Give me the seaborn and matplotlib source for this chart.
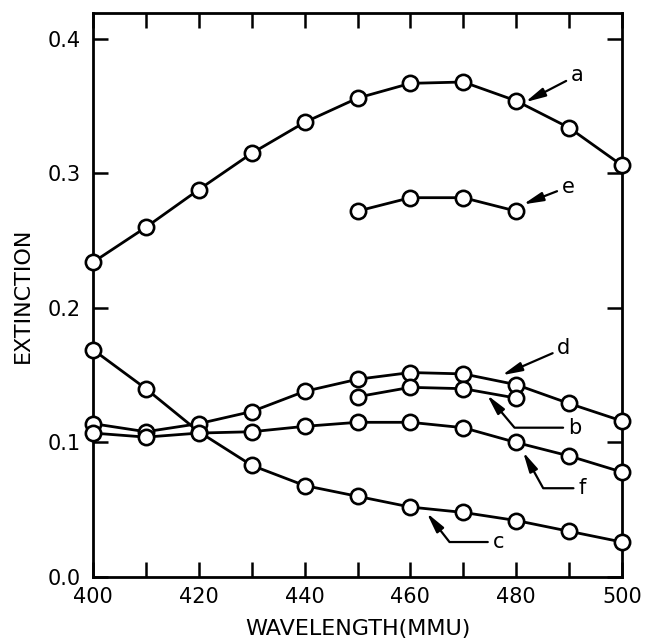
import matplotlib
matplotlib.use("Agg")
import matplotlib.pyplot as plt
import seaborn as sns
import pandas as pd

# ---- data ----
wavelength = [400, 410, 420, 430, 440, 450, 460, 470, 480, 490, 500]
curve_a = [0.234, 0.260, 0.288, 0.315, 0.338, 0.356, 0.367, 0.368, 0.354, 0.334, 0.306]
curve_c = [0.169, 0.140, 0.108, 0.083, 0.068, 0.060, 0.052, 0.048, 0.042, 0.034, 0.026]
curve_d = [0.114, 0.108, 0.114, 0.123, 0.138, 0.147, 0.152, 0.151, 0.143, 0.129, 0.116]
curve_f = [0.107, 0.104, 0.107, 0.108, 0.112, 0.115, 0.115, 0.111, 0.100, 0.090, 0.078]
wavelength_short = [450, 460, 470, 480]
curve_b = [0.134, 0.141, 0.140, 0.133]
curve_e = [0.272, 0.282, 0.282, 0.272]

x_ticks = [400, 410, 420, 430, 440, 450, 460, 470, 480, 490, 500]
x_tick_labels = ["400", "", "420", "", "440", "", "460", "", "480", "", "500"]
y_ticks = [0.0, 0.1, 0.2, 0.3, 0.4]
y_tick_labels = ["0.0", "0.1", "0.2", "0.3", "0.4"]

sns.set_style("ticks")
plt.rcParams["font.family"] = ["DejaVu Sans"]
plt.rcParams["text.color"] = "black"
plt.rcParams["axes.labelcolor"] = "black"

W, H = 649, 640
fig = plt.figure(figsize=(W / 100, H / 100), dpi=100)
ax = fig.add_axes([93 / W, (H - 577) / H, 529 / W, 564 / H])

series = [
    (wavelength, curve_a),
    (wavelength, curve_c),
    (wavelength, curve_d),
    (wavelength, curve_f),
    (wavelength_short, curve_b),
    (wavelength_short, curve_e),
]
for xs, ys in series:
    df = pd.DataFrame({"wl": xs, "ext": ys})
    sns.lineplot(data=df, x="wl", y="ext", ax=ax, color="black", lw=2.0,
                 marker="o", markersize=11, markerfacecolor="white",
                 markeredgecolor="black", markeredgewidth=1.9,
                 sort=False, clip_on=False, zorder=3)

ax.set_xlim(400, 500)
ax.set_ylim(0, 0.4193)
ax.set_xticks(x_ticks)
ax.set_xticklabels(x_tick_labels)
ax.set_yticks(y_ticks)
ax.set_yticklabels(y_tick_labels)
ax.tick_params(axis="both", direction="in", length=11, width=1.8,
               top=True, right=True, labelsize=15, colors="black")
ax.tick_params(axis="x", pad=7)
ax.tick_params(axis="y", pad=9)
for sp in ax.spines.values():
    sp.set_linewidth(2.0)
    sp.set_color("black")

ax.set_xlabel("WAVELENGTH(MMU)", fontsize=16, color="black")
ax.set_ylabel("EXTINCTION", fontsize=16, color="black")
ax.xaxis.set_label_coords(0.5, -0.074)
ax.yaxis.set_label_coords(-0.113, 0.5)

head = "-|>,head_length=0.8,head_width=0.18"
straight = [
    ("a", (481.7, 0.353), (491.5, 0.373)),
    ("e", (481.3, 0.277), (489.8, 0.290)),
    ("d", (477.3, 0.150), (489.0, 0.170)),
]
for lab, xy, xyt in straight:
    ax.annotate(lab, xy=xy, xytext=xyt, fontsize=15, ha="center", va="center",
                color="black",
                arrowprops=dict(arrowstyle=head, color="black", lw=1.6,
                                shrinkA=1, shrinkB=0))

elbow = [
    ("b", (474.5, 0.1353), (491.0, 0.111), -50),
    ("f", (481.3, 0.093), (492.4, 0.066), -61),
    ("c", (463.1, 0.0476), (476.6, 0.026), -52),
]
for lab, xy, xyt, ang in elbow:
    ax.annotate(lab, xy=xy, xytext=xyt, fontsize=15, ha="center", va="center",
                color="black",
                arrowprops=dict(arrowstyle=head, color="black", lw=1.6,
                                shrinkA=1, shrinkB=0,
                                connectionstyle=f"angle,angleA=0,angleB={ang},rad=0"))

fig.savefig("out.png", dpi=100, facecolor="white")
